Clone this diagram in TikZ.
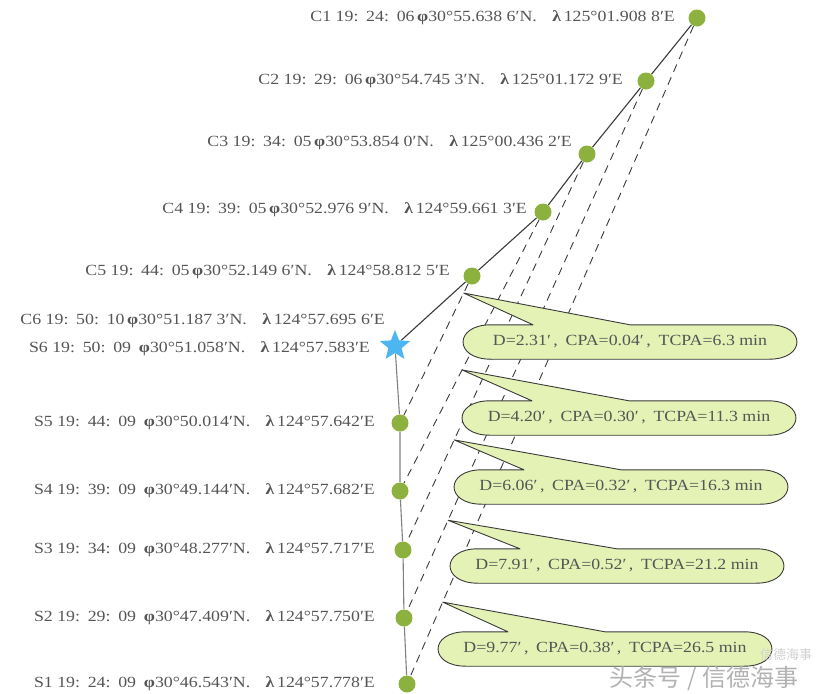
\documentclass[tikz,border=0pt]{standalone}
\usepackage{fontspec}
\setmainfont{Liberation Serif}
\newfontfamily\navfont[FakeStretch=1.15]{Liberation Serif}
\newfontfamily\cjk{Noto Sans CJK SC}
\usepackage{tikz}
\usetikzlibrary{positioning,calc,shapes.geometric,backgrounds}
\definecolor{fixgreen}{HTML}{8DB13E}
\definecolor{starblue}{HTML}{4DB6F0}
\definecolor{bubblefill}{HTML}{E4F3B5}
\definecolor{textgray}{HTML}{555555}
\definecolor{track}{HTML}{3A3A3A}

\begin{document}
\begin{tikzpicture}[x=1pt, y=-1pt,
  fix/.style={circle, fill=fixgreen, minimum size=17pt, inner sep=0pt},
  poslabel/.style={anchor=east, inner sep=0pt, text=textgray,
    font=\navfont\fontsize{15.5}{17}\selectfont},
  bubble/.style={rectangle, minimum width=334pt, minimum height=34pt,
    text=textgray, font=\navfont\fontsize{15.5}{17}\selectfont},
  bubbleline/.style={draw=track, fill=bubblefill, line width=0.9pt, line join=round},
  course/.style={draw=track, line width=1.1pt},
  bearing/.style={draw=track, line width=0.9pt, dash pattern=on 8pt off 6pt}
]
\useasboundingbox (0,0) rectangle (820,694);

% own ship C and target S
\node[fix] (C1) at (697,18) {};
\node[fix] (C2) at (646,81) {};
\node[fix] (C3) at (587,154) {};
\node[fix] (C4) at (543,212) {};
\node[fix] (C5) at (472,276) {};
\node[star, star points=5, star point ratio=2.3, fill=starblue,
  minimum size=32pt, inner sep=0pt] (C6) at (395,346) {};
\node[fix] (S5) at (400,423) {};
\node[fix] (S4) at (400,491) {};
\node[fix] (S3) at (403,550) {};
\node[fix] (S2) at (404,618) {};
\node[fix] (S1) at (407,684) {};

\node[poslabel] (lC1) at (675,18) {C1 19:\enspace24:\enspace06\,\textbf{φ}30°55.638 6′N.\enspace\enspace\textbf{λ}\,125°01.908 8′E};
\node[poslabel] (lC2) at (623,81) {C2 19:\enspace29:\enspace06\,\textbf{φ}30°54.745 3′N.\enspace\enspace\textbf{λ}\,125°01.172 9′E};
\node[poslabel] (lC3) at (572,143) {C3 19:\enspace34:\enspace05\,\textbf{φ}30°53.854 0′N.\enspace\enspace\textbf{λ}\,125°00.436 2′E};
\node[poslabel] (lC4) at (527,210) {C4 19:\enspace39:\enspace05\,\textbf{φ}30°52.976 9′N.\enspace\enspace\textbf{λ}\,124°59.661 3′E};
\node[poslabel] (lC5) at (450,272) {C5 19:\enspace44:\enspace05\,\textbf{φ}30°52.149 6′N.\enspace\enspace\textbf{λ}\,124°58.812 5′E};
\node[poslabel] (lC6) at (385,321) {C6 19:\enspace50:\enspace10\,\textbf{φ}30°51.187 3′N.\enspace\enspace\textbf{λ}\,124°57.695 6′E};
\node[poslabel] (lS6) at (370,349) {S6 19:\enspace50:\enspace09\enspace\textbf{φ}30°51.058′N.\enspace\enspace\textbf{λ}\,124°57.583′E};
\node[poslabel] (lS5) at (375,423) {S5 19:\enspace44:\enspace09\enspace\textbf{φ}30°50.014′N.\enspace\enspace\textbf{λ}\,124°57.642′E};
\node[poslabel] (lS4) at (375,491) {S4 19:\enspace39:\enspace09\enspace\textbf{φ}30°49.144′N.\enspace\enspace\textbf{λ}\,124°57.682′E};
\node[poslabel] (lS3) at (375,550) {S3 19:\enspace34:\enspace09\enspace\textbf{φ}30°48.277′N.\enspace\enspace\textbf{λ}\,124°57.717′E};
\node[poslabel] (lS2) at (375,618) {S2 19:\enspace29:\enspace09\enspace\textbf{φ}30°47.409′N.\enspace\enspace\textbf{λ}\,124°57.750′E};
\node[poslabel] (lS1) at (375,684) {S1 19:\enspace24:\enspace09\enspace\textbf{φ}30°46.543′N.\enspace\enspace\textbf{λ}\,124°57.778′E};

% CPA callouts
\node[bubble] (d1) at (630,342) {D=2.31′\thinspace,\enspace CPA=0.04′\thinspace,\enspace TCPA=6.3 min};
\node[bubble] (d2) at (629,418) {D=4.20′\thinspace,\enspace CPA=0.30′\thinspace,\enspace TCPA=11.3 min};
\node[bubble] (d3) at (621,487) {D=6.06′\thinspace,\enspace CPA=0.32′\thinspace,\enspace TCPA=16.3 min};
\node[bubble] (d4) at (617,566) {D=7.91′\thinspace,\enspace CPA=0.52′\thinspace,\enspace TCPA=21.2 min};
\node[bubble] (d5) at (605,649) {D=9.77′\thinspace,\enspace CPA=0.38′\thinspace,\enspace TCPA=26.5 min};

\coordinate (t1) at ($(C5)!0.116!(S5)$);
\coordinate (t2) at ($(C4)!0.566!(S4)$);
\coordinate (t3) at ($(C3)!0.722!(S3)$);
\coordinate (t4) at ($(C2)!0.818!(S2)$);
\coordinate (t5) at ($(C1)!0.877!(S1)$);

\begin{scope}[on background layer]
\draw[course] (C1) -- (C2) -- (C3) -- (C4) -- (C5) -- (C6);
\draw[course, draw=gray] (C6) -- (S5) -- (S4) -- (S3) -- (S2) -- (S1);

\draw[bearing] (C1) -- (S1);
\draw[bearing] (C2) -- (S2);
\draw[bearing] (C3) -- (S3);
\draw[bearing] (C4) -- (S4);
\draw[bearing] (C5) -- (S5);

\foreach \d/\t in {d1/t1, d2/t2, d3/t3, d4/t4, d5/t5}
  \path[bubbleline] ([xshift=28pt]\d.north west) -- ([xshift=-97pt]\d.north) -- (\t)
    -- (\d.north) -- ([xshift=-28pt]\d.north east)
    .. controls ([xshift=9pt]\d.north east) and ([xshift=9pt]\d.south east) .. ([xshift=-28pt]\d.south east)
    -- ([xshift=28pt]\d.south west)
    .. controls ([xshift=-9pt]\d.south west) and ([xshift=-9pt]\d.north west) .. cycle;
\end{scope}

% watermark
\node[text=black!18, font=\cjk\fontsize{13}{15}\selectfont] (wm2) at (786,655) {信德海事};
\node[text=black!30, font=\cjk\fontsize{24}{26}\selectfont] (wm1) at (704,679) {头条号 / 信德海事};

\end{tikzpicture}
\end{document}
